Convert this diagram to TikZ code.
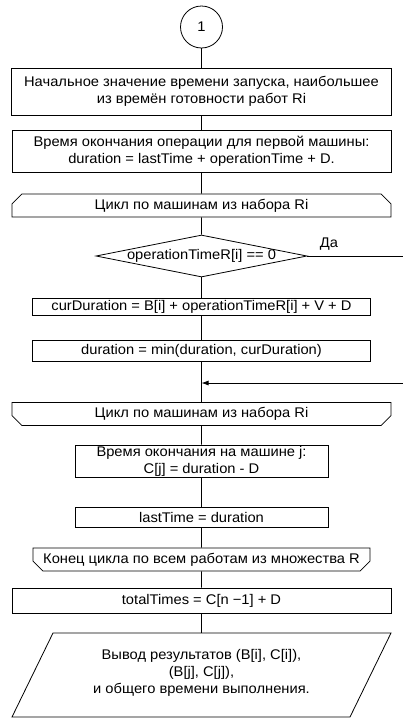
\documentclass[tikz,border=0pt]{standalone}
\usepackage{fontspec}
\setmainfont{Liberation Sans}[FakeStretch=1.05]
\usetikzlibrary{shapes.geometric,shapes.misc,arrows.meta}
\begin{document}
\begin{tikzpicture}[x=1pt,y=-1pt,line width=0.8pt,
  every node/.style={font=\fontsize{14}{17}\selectfont,inner sep=0pt,align=center},
  proc/.style={draw,rectangle},
  loophead/.style={draw,chamfered rectangle,chamfered rectangle corners={north west,north east},
    chamfered rectangle xsep=5pt,chamfered rectangle ysep=5pt},
  looptail/.style={draw,chamfered rectangle,chamfered rectangle corners={south west,south east},
    chamfered rectangle xsep=5pt,chamfered rectangle ysep=5pt},
  decision/.style={draw,diamond},
  flow/.style={-{Latex[length=7pt,width=5pt]}}]
\useasboundingbox (0,0) rectangle (403,718);

% connector to the previous page
\node[draw,circle,minimum size=42pt] (start) at (201.5,27) {1};

\node[proc,minimum width=380pt,minimum height=47pt] (init) at (201.5,91.5)
  {Начальное значение времени запуска, наибольшее\\из времён готовности работ Ri};
\node[proc,minimum width=379pt,minimum height=42pt] (first) at (201.5,151)
  {Время окончания операции для первой машины:\\duration = lastTime + operationTime + D.};
\node[loophead,minimum width=379pt,minimum height=19pt] (loopA) at (201.5,205.5)
  {Цикл по машинам из набора Ri};
\node[decision,minimum width=211pt,minimum height=42pt] (dec) at (201.5,256) {};
\node (dectext) at (dec.center) {operationTimeR[i] == 0};
\node (yes) at (329,244) {Да};
\node[proc,minimum width=338pt,minimum height=17pt] (cur) at (201.5,306.5)
  {curDuration = B[i] + operationTimeR[i] + V + D};
\node[proc,minimum width=338pt,minimum height=21pt] (mind) at (201.5,350.5)
  {duration = min(duration, curDuration)};
\coordinate (merge) at (201.5,383);
\node[looptail,minimum width=379pt,minimum height=22pt] (loopB) at (201.5,414)
  {Цикл по машинам из набора Ri};
\node[proc,minimum width=253pt,minimum height=32pt] (cj) at (201.5,461)
  {Время окончания на машине j:\\C[j] = duration - D};
\node[proc,minimum width=253pt,minimum height=20pt] (last) at (201.5,517)
  {lastTime = duration};
\node[looptail,minimum width=337pt,minimum height=19pt] (loopC) at (201.5,559.5)
  {Конец цикла по всем работам из множества R};
\node[proc,minimum width=379pt,minimum height=25pt] (total) at (201.5,600.5)
  {totalTimes = C[n −1] + D};

% output block (parallelogram)
\coordinate (outtop) at (201.5,633);
\draw (53,633) -- (391,633) -- (350,717) -- (12,717) -- cycle;
\node (out) at (201.5,673)
  {Вывод результатов (B[i], C[i]),\\(B[j], C[j]),\\и общего времени выполнения.};

% main flow
\draw (start) -- (init);
\draw (init) -- (first);
\draw (first) -- (loopA);
\draw (loopA) -- (dec);
\draw (dec) -- (cur);
\draw (cur) -- (mind);
\draw (mind.south) -- (loopB.north);
\draw (loopB) -- (cj);
\draw (cj) -- (last);
\draw (last) -- (loopC);
\draw (loopC) -- (total);
\draw (total.south) -- (outtop);

% bypass for the "yes" branch
\coordinate (rtA) at (406,256);
\coordinate (rtB) at (406,383);
\draw (dec.east) -- (rtA) -- (rtB);
\draw[flow] (rtB) -- (merge);
\end{tikzpicture}
\end{document}
